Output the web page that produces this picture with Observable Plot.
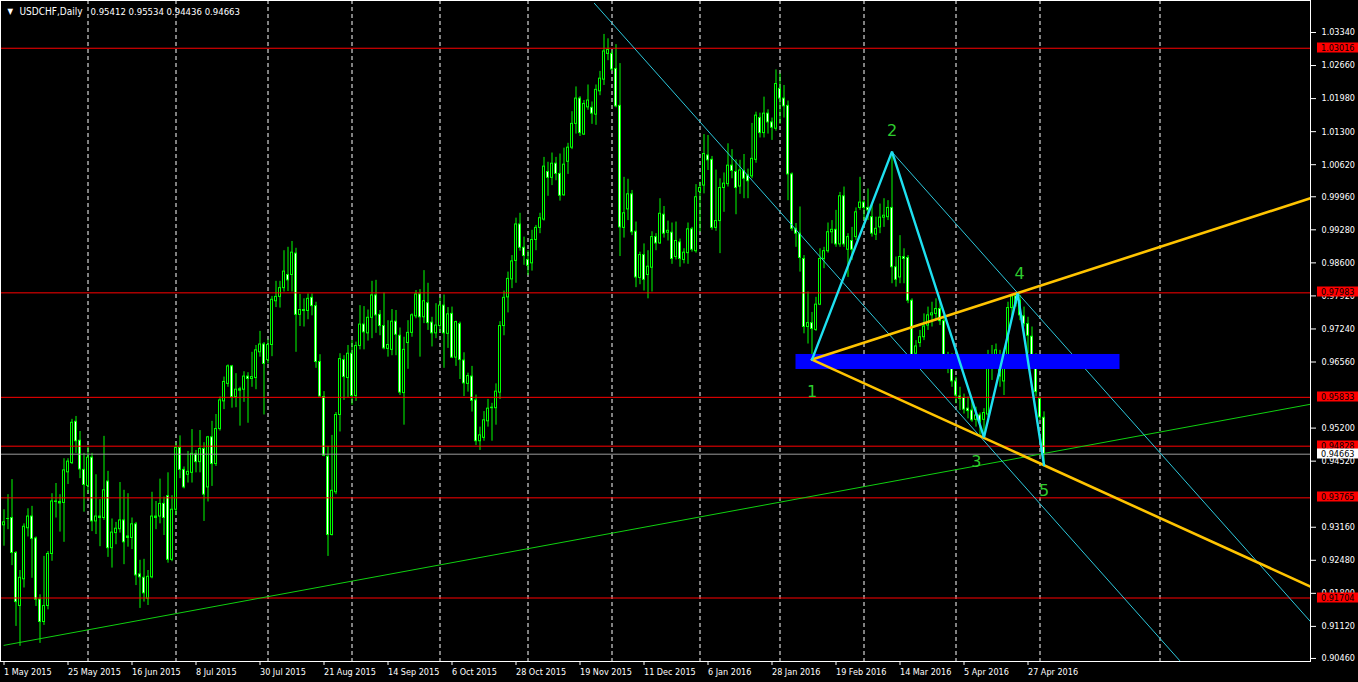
<!DOCTYPE html>
<html><head><meta charset="utf-8">
<script src="https://cdn.jsdelivr.net/npm/d3@7"></script>
<script src="https://cdn.jsdelivr.net/npm/@observablehq/plot@0.6"></script>
<style>
html,body{margin:0;padding:0;background:#000;overflow:hidden}
#chart svg{display:block}
</style></head><body><div id="chart"></div>
<script>
// ---- data ----
const symbolTitle = "USDCHF,Daily";
const lastBar = [0.95412, 0.95534, 0.94436, 0.94663];

const opens = [
.9320,.9333,.9335,.9263,.9154,.9209,.9314,.9338,.9293,.9167,
.9121,.9154,.9261,.9369,.9368,.9366,.9429,.9448,.9533,.9494,
.9434,.9401,.9459,.9328,.9338,.9335,.9410,.9273,.9304,.9312,
.9330,.9297,.9294,.9322,.9219,.9212,.9169,.9213,.9338,.9338,
.9364,.9380,.9249,.9352,.9479,.9434,.9424,.9428,.9466,.9450,
.9477,.9398,.9501,.9446,.9518,.9575,.9611,.9647,.9584,.9597,
.9599,.9626,.9621,.9623,.9676,.9692,.9660,.9691,.9781,.9790,
.9808,.9835,.9835,.9879,.9753,.9763,.9761,.9788,.9771,.9656,
.9584,.9461,.9300,.9388,.9547,.9660,.9623,.9673,.9586,.9689,
.9733,.9715,.9747,.9793,.9753,.9730,.9683,.9681,.9739,.9710,
.9592,.9695,.9716,.9750,.9795,.9748,.9777,.9737,.9715,.9730,
.9772,.9714,.9755,.9665,.9734,.9659,.9611,.9626,.9577,.9493,
.9500,.9534,.9561,.9561,.9593,.9730,.9789,.9826,.9864,.9939,
.9891,.9866,.9859,.9907,.9932,.9949,1.0047,1.0035,1.0064,1.0043,
.9999,1.0068,1.0097,1.0146,1.0198,1.0124,1.0180,1.0179,1.0165,1.0213,
1.0237,1.0290,1.0290,1.0259,1.0183,.9932,.9970,1.0001,.9924,.9829,
.9876,.9835,.9850,.9913,.9900,.9959,.9922,.9922,.9872,.9902,
.9866,.9880,.9929,.9884,1.0006,1.0019,1.0081,1.0072,.9932,.9946,
1.0014,1.0022,1.0060,1.0047,1.0017,1.0049,1.0040,1.0038,1.0072,1.0158,
1.0127,1.0167,1.0149,1.0136,1.0218,1.0198,1.0183,1.0042,.9930,.9920,
.9868,.9728,.9736,.9722,.9774,.9868,.9884,.9923,.9928,.9898,
.9997,.9887,.9905,.9913,.9973,.9984,.9973,.9954,.9918,.9933,
.9953,.9954,.9973,.9851,.9830,.9872,.9870,.9782,.9673,.9695,
.9707,.9731,.9752,.9755,.9765,.9740,.9669,.9649,.9616,.9585,
.9582,.9560,.9556,.9537,.9546,.9537,.9548,.9669,.9667,.9667,
.9616,.9649,.9767,.9791,.9782,.9750,.9734,.9708,.9669,.9580,
.95412];

const highs = [
.9352,.9383,.9414,.9266,.9227,.9323,.9354,.9359,.9296,.9177,
.9256,.9266,.9385,.9406,.9383,.9457,.9457,.9538,.9544,.9513,
.9468,.9482,.9468,.9424,.9373,.9503,.9431,.9333,.9326,.9408,
.9392,.9385,.9335,.9326,.9248,.9250,.9227,.9388,.9369,.9415,
.9378,.9428,.9381,.9489,.9504,.9440,.9472,.9517,.9474,.9515,
.9490,.9503,.9534,.9548,.9584,.9625,.9650,.9649,.9632,.9604,
.9636,.9634,.9676,.9690,.9719,.9696,.9702,.9791,.9822,.9822,
.9885,.9892,.9904,.9890,.9795,.9786,.9796,.9796,.9779,.9671,
.9595,.9482,.9505,.9552,.9673,.9669,.9690,.9700,.9697,.9772,
.9770,.9763,.9822,.9824,.9762,.9798,.9741,.9764,.9762,.9726,
.9707,.9741,.9755,.9803,.9805,.9844,.9818,.9748,.9776,.9789,
.9794,.9768,.9769,.9740,.9738,.9675,.9633,.9647,.9588,.9522,
.9554,.9579,.9571,.9611,.9739,.9802,.9841,.9875,.9952,.9962,
.9913,.9885,.9927,.9937,.9962,1.0077,1.0067,1.0086,1.0077,1.0084,
1.0096,1.0106,1.0171,1.0222,1.0202,1.0194,1.0226,1.0191,1.0226,1.0254,
1.0330,1.0321,1.0296,1.0309,1.0270,1.0036,1.0032,1.0009,.9944,.9882,
.9899,.9885,.9924,.9920,.9992,.9976,.9946,.9942,.9944,.9909,
.9889,.9942,.9933,1.0021,1.0026,1.0124,1.0122,1.0079,1.0051,1.0033,
1.0045,1.0105,1.0093,1.0072,1.0071,1.0083,1.0053,1.0147,1.0170,1.0168,
1.0201,1.0175,1.0158,1.0257,1.0249,1.0225,1.0193,1.0045,.9941,.9975,
.9875,.9800,.9758,.9789,.9889,.9892,.9942,.9947,.9968,1.0005,
1.0016,.9920,.9933,.9973,1.0036,.9988,1.0012,.9981,.9954,.9981,
.9992,.9988,1.0080,.9872,.9916,.9889,.9875,.9786,.9700,.9721,
.9755,.9769,.9779,.9786,.9779,.9752,.9676,.9673,.9625,.9604,
.9590,.9584,.9577,.9563,.9551,.9560,.9680,.9690,.9693,.9680,
.9673,.9779,.9796,.9798,.9793,.9769,.9748,.9728,.9673,.9584,
.95534];

const lows = [
.9277,.9311,.9237,.9112,.9071,.9191,.9296,.9211,.9153,.9077,
.9114,.9146,.9246,.9335,.9306,.9285,.9404,.9445,.9468,.9416,
.9347,.9385,.9307,.9301,.9276,.9330,.9254,.9232,.9280,.9304,
.9239,.9275,.9270,.9196,.9149,.9162,.9155,.9210,.9311,.9323,
.9299,.9242,.9245,.9340,.9416,.9395,.9407,.9407,.9428,.9428,
.9328,.9368,.9400,.9441,.9514,.9558,.9604,.9561,.9562,.9524,
.9573,.9530,.9604,.9599,.9666,.9547,.9652,.9667,.9768,.9767,
.9800,.9801,.9800,.9676,.9729,.9728,.9743,.9751,.9643,.9584,
.9461,.9256,.9298,.9383,.9512,.9577,.9582,.9567,.9575,.9681,
.9681,.9699,.9704,.9715,.9710,.9681,.9666,.9669,.9669,.9587,
.9526,.9641,.9707,.9745,.9666,.9735,.9721,.9687,.9704,.9717,
.9643,.9684,.9663,.9647,.9620,.9585,.9594,.9553,.9484,.9474,
.9493,.9522,.9493,.9526,.9579,.9710,.9757,.9807,.9818,.9884,
.9855,.9834,.9843,.9885,.9920,.9946,.9997,1.0019,1.0029,.9987,
.9997,1.0042,1.0093,1.0125,1.0120,1.0122,1.0174,1.0145,1.0143,1.0204,
1.0225,1.0276,1.0254,1.0179,.9873,.9911,.9947,.9916,.9809,.9815,
.9802,.9786,.9800,.9885,.9898,.9911,.9905,.9857,.9866,.9851,
.9858,.9857,.9882,.9880,.9923,1.0002,1.0050,.9927,.9925,.9879,
.9964,1.0016,1.0033,.9959,1.0001,.9992,.9992,1.0033,1.0065,1.0117,
1.0117,1.0125,1.0112,1.0131,1.0145,1.0158,.9988,.9925,.9892,.9841,
.9714,.9693,.9661,.9719,.9772,.9848,.9880,.9899,.9892,.9892,
.9892,.9830,.9865,.9906,.9968,.9947,.9947,.9913,.9906,.9920,
.9933,.9947,.9817,.9810,.9817,.9817,.9776,.9649,.9659,.9686,
.9700,.9721,.9728,.9741,.9731,.9656,.9632,.9604,.9570,.9556,
.9549,.9539,.9532,.9522,.9505,.9501,.9542,.9618,.9645,.9604,
.9587,.9645,.9748,.9769,.9741,.9728,.9673,.9659,.9584,.9536,
.94436];

const closes = [
.9326,.9333,.9263,.9162,.9212,.9317,.9338,.9292,.9167,.9121,
.9154,.9261,.9369,.9368,.9365,.9433,.9451,.9531,.9493,.9435,
.9403,.9459,.9328,.9338,.9335,.9392,.9273,.9305,.9313,.9330,
.9285,.9294,.9322,.9217,.9213,.9180,.9214,.9338,.9335,.9364,
.9335,.9249,.9352,.9479,.9434,.9398,.9430,.9467,.9450,.9477,
.9383,.9501,.9446,.9518,.9577,.9615,.9647,.9584,.9599,.9600,
.9626,.9621,.9625,.9680,.9692,.9652,.9691,.9784,.9790,.9808,
.9842,.9824,.9881,.9753,.9763,.9761,.9786,.9771,.9656,.9585,
.9463,.9300,.9391,.9547,.9662,.9625,.9673,.9586,.9689,.9733,
.9717,.9747,.9793,.9752,.9730,.9684,.9691,.9739,.9712,.9593,
.9681,.9716,.9752,.9795,.9748,.9781,.9736,.9715,.9731,.9772,
.9715,.9754,.9665,.9738,.9660,.9612,.9627,.9576,.9493,.9505,
.9536,.9560,.9562,.9595,.9730,.9788,.9827,.9863,.9939,.9891,
.9874,.9854,.9907,.9932,.9952,1.0058,1.0035,1.0064,1.0043,.9998,
1.0062,1.0097,1.0146,1.0198,1.0127,1.0187,1.0194,1.0167,1.0216,1.0239,
1.0295,1.0298,1.0258,1.0182,.9933,.9962,1.0001,.9923,.9830,.9876,
.9825,.9852,.9913,.9900,.9961,.9920,.9926,.9868,.9905,.9868,
.9881,.9929,.9887,.9995,1.0014,1.0084,1.0071,.9932,.9946,1.0014,
1.0023,1.0060,1.0049,1.0014,1.0050,1.0033,1.0028,1.0074,1.0163,1.0127,
1.0167,1.0149,1.0138,1.0228,1.0198,1.0182,1.0042,.9930,.9920,.9870,
.9728,.9736,.9724,.9774,.9868,.9884,.9923,.9928,.9898,.9997,
.9898,.9913,.9887,.9964,.9984,.9973,.9968,.9920,.9930,.9953,
.9957,.9973,.9851,.9825,.9872,.9868,.9782,.9669,.9688,.9707,
.9729,.9752,.9756,.9765,.9740,.9660,.9649,.9616,.9587,.9580,
.9558,.9555,.9536,.9546,.9532,.9551,.9669,.9666,.9680,.9626,
.9652,.9767,.9791,.9776,.9752,.9734,.9710,.9666,.9594,.9542,
.94663];

// bottom axis: bar index -> date label
const dateTickIdx = [0,16,32,48,64,80,96,112,128,144,160,176,192,208,224,240,256];
const dateLabels = ["1 May 2015","25 May 2015","16 Jun 2015","8 Jul 2015","30 Jul 2015","21 Aug 2015","14 Sep 2015","6 Oct 2015","28 Oct 2015","19 Nov 2015","11 Dec 2015","6 Jan 2016","28 Jan 2016","19 Feb 2016","14 Mar 2016","5 Apr 2016","27 Apr 2016"];
// month separators (bar index)
const monthStartIdx = [21,43,66,87,109,131,152,174,194,215,238,259,289];
// right axis ticks (0.95880 and 0.93840 are hidden under the level boxes in the original)
const priceTicks = [1.0334,1.0266,1.0198,1.0130,1.0062,0.9996,0.9928,0.9860,0.9792,0.9724,0.9656,0.9520,0.9452,0.9316,0.9248,0.9180,0.9112,0.9046];
// horizontal levels
const levels = [1.03016, 0.97983, 0.95833, 0.94828, 0.93765, 0.91704];
const bidPrice = 0.94663;

// trend lines (bar index / price anchors)
const greenIdx = [0, 326.6],      greenPrice = [0.9073, 0.9569];
const chanAIdx = [147.6, 294.1],  chanAPrice = [1.0394, 0.9040];
const chanBIdx = [221.9, 326.6],  chanBPrice = [1.0089, 0.9122];
const fanUpIdx = [202, 326.6],    fanUpPrice = [0.9661, 0.9993];
const fanDnIdx = [202, 326.6],    fanDnPrice = [0.9661, 0.9194];
const zoneIdx = [198, 279],       zonePrice = [0.96406, 0.96715];
// wave zigzag
const waveIdx = [202, 222, 245, 253.4, 260];
const wavePrice = [0.9661, 1.0089, 0.9501, 0.9797, 0.9444];
const waveNames = ["1","2","3","4","5"];
const waveLabelIdx = [202, 222, 243.1, 253.9, 260];
const waveLabelPrice = [0.9594, 1.0131, 0.9450, 0.9838, 0.9390];

// ---- build ----
const candles = opens.map((o, i) => ({i, o, h: highs[i], l: lows[i], c: closes[i]}));
const pts = (xs, ys) => xs.map((x, k) => ({x, y: ys[k]}));
const dateMap = new Map(dateTickIdx.map((d, k) => [d, dateLabels[k]]));
const LIME = "#00ff00";
const FONT = "'DejaVu Sans Condensed','DejaVu Sans',sans-serif";

const priceBoxes = (index, scales, values, dims) => {
  const g = d3.create("svg:g").attr("font-family", FONT).attr("font-size", 9).attr("text-anchor", "start");
  const rows = levels.map(v => ({v, bg: "#ff0000"})).concat([{v: bidPrice, bg: "#ffffff"}]);
  const x0 = dims.width - dims.marginRight;
  for (const r of rows) {
    const y = Math.round(scales.y(r.v));
    g.append("rect").attr("x", x0 + 7).attr("y", y - 5.5).attr("width", dims.marginRight - 7).attr("height", 10).attr("fill", r.bg);
    g.append("text").attr("x", x0 + 11).attr("y", y - 0.5).attr("dy", "0.36em").attr("text-anchor", "start").attr("fill", "#000").text(r.v.toFixed(5));
  }
  return g.node();
};

const chart = Plot.plot({
  width: 1358, height: 682,
  marginLeft: 0, marginRight: 48, marginTop: 0, marginBottom: 21,
  x: {domain: [-0.875, 326.625], axis: null},
  y: {domain: [0.903976, 1.039984], axis: null},
  style: {background: "#000", color: "#fff", fontFamily: FONT, fontSize: "9px"},
  marks: [
    Plot.ruleX(monthStartIdx, {stroke: "#ffffff", strokeDasharray: "4,3", strokeWidth: 1}),
    // candles
    Plot.ruleX(candles, {x: "i", y1: "l", y2: "h", stroke: LIME, strokeWidth: 1}),
    Plot.rect(candles, {x1: d => d.i - 0.375, x2: d => d.i + 0.375, y1: d => Math.min(d.o, d.c), y2: d => Math.max(d.o, d.c), fill: LIME, insetTop: -0.5, insetBottom: -0.5}),
    Plot.rect(candles.filter(d => Math.abs(d.o - d.c) > 0.0003), {x1: d => d.i - 0.375, x2: d => d.i + 0.375, y1: d => Math.min(d.o, d.c), y2: d => Math.max(d.o, d.c), fill: d => d.c < d.o ? "#ffffff" : "#000000", insetLeft: 1, insetRight: 1, insetTop: 0.5, insetBottom: 0.5}),
    // levels
    Plot.ruleY(levels, {stroke: "#ff0000", strokeWidth: 1}),
    Plot.ruleY([bidPrice], {stroke: "#9a9a9a", strokeWidth: 1}),
    // trend lines
    Plot.line(pts(greenIdx, greenPrice), {x: "x", y: "y", stroke: "#10d010", strokeWidth: 1, clip: true}),
    Plot.line(pts(chanAIdx, chanAPrice), {x: "x", y: "y", stroke: "#2cc8dc", strokeWidth: 1, clip: true}),
    Plot.line(pts(chanBIdx, chanBPrice), {x: "x", y: "y", stroke: "#2cc8dc", strokeWidth: 1, clip: true}),
    Plot.rect([0], {x1: zoneIdx[0], x2: zoneIdx[1], y1: zonePrice[0], y2: zonePrice[1], fill: "#0000ff"}),
    Plot.line(pts(fanUpIdx, fanUpPrice), {x: "x", y: "y", stroke: "#ffc400", strokeWidth: 2.6, clip: true}),
    Plot.line(pts(fanDnIdx, fanDnPrice), {x: "x", y: "y", stroke: "#ffc400", strokeWidth: 2.6, clip: true}),
    Plot.line(pts(waveIdx, wavePrice), {x: "x", y: "y", stroke: "#1ee0f0", strokeWidth: 2.4, strokeLinejoin: "miter"}),
    Plot.text(waveNames, {x: (d, k) => waveLabelIdx[k], y: (d, k) => waveLabelPrice[k], text: d => d, fill: "#2ecc2e", fontSize: 16, fontFamily: "'DejaVu Sans',sans-serif"}),
    Plot.frame({stroke: "#ffffff"}),
    Plot.axisY(priceTicks, {anchor: "right", tickSize: 5, tickPadding: 6, tickFormat: d3.format(".5f"), color: "#ffffff", label: null}),
    Plot.axisX(dateTickIdx, {anchor: "bottom", tickSize: 4, tickPadding: 3, tickFormat: d => dateMap.get(d), textAnchor: "start", color: "#ffffff", label: null}),
    priceBoxes,
    Plot.text(["\u25BC"], {text: d => d, frameAnchor: "top-left", dx: 7, dy: 11, fill: "#ffffff", textAnchor: "start", lineAnchor: "middle", fontSize: 8}),
    Plot.text([symbolTitle], {text: d => d, frameAnchor: "top-left", dx: 19, dy: 11, fill: "#ffffff", textAnchor: "start", lineAnchor: "middle", fontSize: 10}),
    Plot.text([lastBar.map(v => v.toFixed(5)).join(" ")], {text: d => d, frameAnchor: "top-left", dx: 90, dy: 11, fill: "#ffffff", textAnchor: "start", lineAnchor: "middle", fontSize: 9.5})
  ]
});
document.getElementById("chart").appendChild(chart);
</script>
</body></html>
